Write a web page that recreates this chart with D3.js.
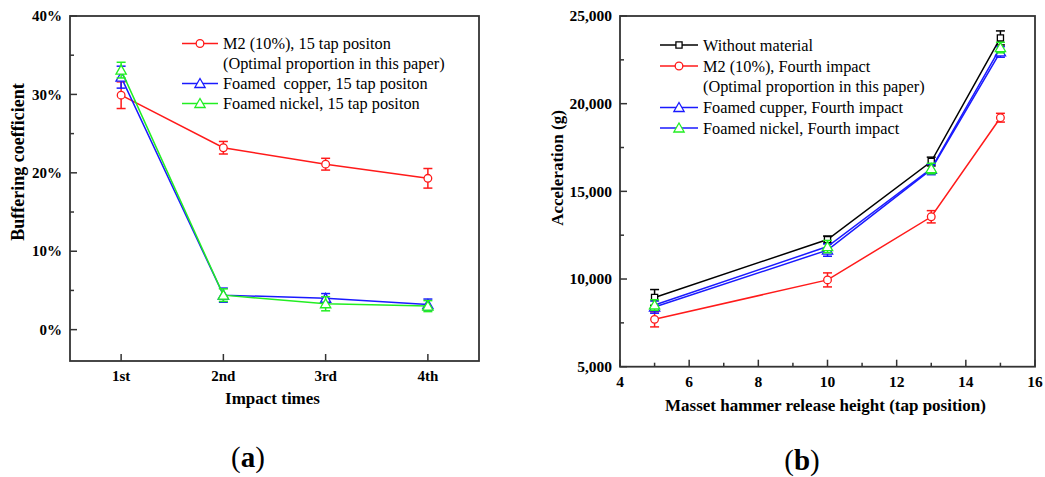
<!DOCTYPE html>
<html><head><meta charset="utf-8">
<script src="https://cdn.jsdelivr.net/npm/d3@7"></script>
<style>body{margin:0;background:#fff}</style>
</head><body><svg id="c" width="1045" height="477" font-family="'Liberation Serif', 'Times New Roman', Times, 'DejaVu Serif', serif"></svg>
<script>
// ---------- Panel (a) data ----------
const aCategories = ["1st", "2nd", "3rd", "4th"];
const aYTicks = [0, 10, 20, 30, 40];
const aM2 = [29.9, 23.2, 21.1, 19.3];
const aM2Err = [1.7, 0.8, 0.75, 1.25];
const aCopper = [32.2, 4.4, 4.0, 3.2];
const aCopperErr = [1.4, 0.9, 0.6, 0.7];
const aNickel = [33.1, 4.4, 3.3, 3.0];
const aNickelErr = [1.0, 0.8, 0.9, 0.7];
const aLegend = ["M2 (10%), 15 tap positon", "(Optimal proportion in this paper)", "Foamed  copper, 15 tap positon", "Foamed nickel, 15 tap positon"];

// ---------- Panel (b) data ----------
const bX = [5, 10, 13, 15];
const bXTicks = [4, 6, 8, 10, 12, 14, 16];
const bYTicks = [5000, 10000, 15000, 20000, 25000];
const bWithout = [8950, 12250, 16700, 23750];
const bWithoutErr = [450, 200, 250, 400];
const bM2 = [7700, 9950, 13550, 19200];
const bM2Err = [430, 400, 350, 250];
const bCopper = [8400, 11650, 16250, 22950];
const bCopperErr = [350, 350, 300, 300];
const bNickel = [8520, 11850, 16300, 23200];
const bNickelErr = [300, 350, 300, 300];
const bLegend = ["Without material", "M2 (10%), Fourth impact", "(Optimal proportion in this paper)", "Foamed cupper, Fourth impact", "Foamed nickel, Fourth impact"];

const svg = d3.select("#c");
const AX = "#333";
const FONT = "'Liberation Serif', 'Times New Roman', Times, 'DejaVu Serif', serif";

function drawFrame(g, x0, x1, y0, y1) {
  g.append("rect").attr("x", x0).attr("y", y0).attr("width", x1 - x0).attr("height", y1 - y0)
    .attr("fill", "none").attr("stroke", AX).attr("stroke-width", 1.8);
}
function marker(g, type, cx, cy, color, fill) {
  const sym = type === "circle" ? d3.symbolCircle : type === "square" ? d3.symbolSquare : d3.symbolTriangle;
  const size = type === "circle" ? 46 : type === "square" ? 38 : 46;
  g.append("path").attr("d", d3.symbol().type(sym).size(size)())
    .attr("transform", `translate(${cx},${cy + (type === "triangle" ? 1 : 0)})`)
    .attr("fill", fill || "#fff").attr("stroke", color).attr("stroke-width", 1.3);
}
function series(g, xs, ys, errs, x, y, lineColor, mColor, mType) {
  const line = d3.line().x((d, i) => x(xs[i])).y(d => y(d));
  g.append("path").datum(ys).attr("d", line).attr("fill", "none").attr("stroke", lineColor).attr("stroke-width", 1.5);
  ys.forEach((v, i) => {
    const cx = x(xs[i]);
    const yt = y(v + errs[i]), yb = y(v - errs[i]);
    g.append("line").attr("x1", cx).attr("x2", cx).attr("y1", yt).attr("y2", yb).attr("stroke", mColor).attr("stroke-width", 1.5);
    [yt, yb].forEach(yy => g.append("line").attr("x1", cx - 4.5).attr("x2", cx + 4.5).attr("y1", yy).attr("y2", yy).attr("stroke", mColor).attr("stroke-width", 1.5));
    marker(g, mType, cx, y(v), mColor);
  });
}
function txt(g) { return g.append("text").attr("font-family", FONT); }

// ================= Panel (a) =================
{
  const L = 70, R = 479, T = 16, B = 361;
  const x = d3.scaleLinear().domain([0.5, 4.5]).range([L, R]);
  const y = d3.scaleLinear().domain([-4, 40]).range([B, T]);
  const g = svg.append("g");
  d3.range(0, 41, 5).forEach(v => {
    const major = v % 10 === 0;
    g.append("line").attr("x1", L).attr("x2", L + (major ? 7 : 4)).attr("y1", y(v)).attr("y2", y(v)).attr("stroke", AX).attr("stroke-width", 1.5);
  });
  aYTicks.forEach(v => txt(g).attr("x", L - 8).attr("y", y(v)).attr("dy", "0.35em").attr("text-anchor", "end")
    .attr("font-weight", "bold").attr("font-size", 15).text(v + "%"));
  aCategories.forEach((c, i) => {
    g.append("line").attr("x1", x(i + 1)).attr("x2", x(i + 1)).attr("y1", B).attr("y2", B - 7).attr("stroke", AX).attr("stroke-width", 1.5);
    txt(g).attr("x", x(i + 1)).attr("y", 376).attr("dy", "0.35em").attr("text-anchor", "middle")
      .attr("font-weight", "bold").attr("font-size", 15).text(c);
  });
  drawFrame(g, L, R, T, B);
  txt(g).attr("x", (L + R) / 2 - 2).attr("y", 398).attr("dy", "0.35em").attr("text-anchor", "middle")
    .attr("font-weight", "bold").attr("font-size", 17).text("Impact times");
  txt(g).attr("transform", `translate(18,162) rotate(-90)`).attr("dy", "0.35em").attr("text-anchor", "middle")
    .attr("font-weight", "bold").attr("font-size", 18).text("Buffering coefficient");
  const xs = [1, 2, 3, 4];
  series(g, xs, aM2, aM2Err, x, y, "#ff1a1a", "#ff1a1a", "circle");
  series(g, xs, aCopper, aCopperErr, x, y, "#1a1aff", "#1a1aff", "triangle");
  series(g, xs, aNickel, aNickelErr, x, y, "#22ee22", "#22ee22", "triangle");
  const lx0 = 182, lx1 = 218, tx = 223, ly = [43.5, 63.5, 83.5, 103.5];
  const lcol = ["#ff1a1a", null, "#1a1aff", "#22ee22"], ltype = ["circle", null, "triangle", "triangle"];
  aLegend.forEach((t, i) => {
    if (lcol[i]) {
      g.append("line").attr("x1", lx0).attr("x2", lx1).attr("y1", ly[i]).attr("y2", ly[i]).attr("stroke", lcol[i]).attr("stroke-width", 1.5);
      marker(g, ltype[i], (lx0 + lx1) / 2, ly[i], lcol[i]);
    }
    txt(g).attr("x", tx).attr("y", ly[i]).attr("dy", "0.35em").attr("font-size", 16.3).style("white-space", "pre").text(t);
  });
  const lab = txt(g).attr("x", 248).attr("y", 457).attr("dy", "0.35em").attr("text-anchor", "middle").attr("font-size", 29);
  lab.append("tspan").text("(");
  lab.append("tspan").attr("font-weight", "bold").text("a");
  lab.append("tspan").text(")");
}

// ================= Panel (b) =================
{
  const L = 620, R = 1035, T = 16, B = 366.7;
  const x = d3.scaleLinear().domain([4, 16]).range([L, R]);
  const y = d3.scaleLinear().domain([5000, 25000]).range([B, T]);
  const g = svg.append("g");
  d3.range(5000, 25001, 2500).forEach(v => {
    const major = v % 5000 === 0;
    g.append("line").attr("x1", L).attr("x2", L + (major ? 7 : 4)).attr("y1", y(v)).attr("y2", y(v)).attr("stroke", AX).attr("stroke-width", 1.5);
  });
  const fmt = d3.format(",");
  bYTicks.forEach(v => txt(g).attr("x", L - 8).attr("y", y(v)).attr("dy", "0.35em").attr("text-anchor", "end")
    .attr("font-weight", "bold").attr("font-size", 15.5).text(fmt(v)));
  d3.range(4, 16.01, 1).forEach(v => {
    const major = v % 2 === 0;
    g.append("line").attr("x1", x(v)).attr("x2", x(v)).attr("y1", B).attr("y2", B - (major ? 7 : 4)).attr("stroke", AX).attr("stroke-width", 1.5);
  });
  bXTicks.forEach(v => txt(g).attr("x", x(v)).attr("y", 382).attr("dy", "0.35em").attr("text-anchor", "middle")
    .attr("font-weight", "bold").attr("font-size", 15.5).text(v));
  drawFrame(g, L, R, T, B);
  txt(g).attr("x", (L + R) / 2 - 2).attr("y", 405).attr("dy", "0.35em").attr("text-anchor", "middle")
    .attr("font-weight", "bold").attr("font-size", 17).text("Masset hammer release height (tap position)");
  txt(g).attr("transform", `translate(557,168) rotate(-90)`).attr("dy", "0.35em").attr("text-anchor", "middle")
    .attr("font-weight", "bold").attr("font-size", 17).text("Acceleration (g)");
  series(g, bX, bWithout, bWithoutErr, x, y, "#000", "#000", "square");
  series(g, bX, bM2, bM2Err, x, y, "#ff1a1a", "#ff1a1a", "circle");
  series(g, bX, bCopper, bCopperErr, x, y, "#1a1aff", "#1a1aff", "triangle");
  series(g, bX, bNickel, bNickelErr, x, y, "#1a1aff", "#22ee22", "triangle");
  const lx0 = 660, lx1 = 698, tx = 703, ly = [45, 66, 86.5, 107.5, 128];
  const lcol = ["#000", "#ff1a1a", null, "#1a1aff", "#1a1aff"], mcol = ["#000", "#ff1a1a", null, "#1a1aff", "#22ee22"];
  const ltype = ["square", "circle", null, "triangle", "triangle"];
  bLegend.forEach((t, i) => {
    if (lcol[i]) {
      g.append("line").attr("x1", lx0).attr("x2", lx1).attr("y1", ly[i]).attr("y2", ly[i]).attr("stroke", lcol[i]).attr("stroke-width", 1.5);
      marker(g, ltype[i], (lx0 + lx1) / 2, ly[i], mcol[i]);
    }
    txt(g).attr("x", tx).attr("y", ly[i]).attr("dy", "0.35em").attr("font-size", 16.3).text(t);
  });
  const lab = txt(g).attr("x", 802).attr("y", 460).attr("dy", "0.35em").attr("text-anchor", "middle").attr("font-size", 29);
  lab.append("tspan").text("(");
  lab.append("tspan").attr("font-weight", "bold").text("b");
  lab.append("tspan").text(")");
}
</script></body></html>
